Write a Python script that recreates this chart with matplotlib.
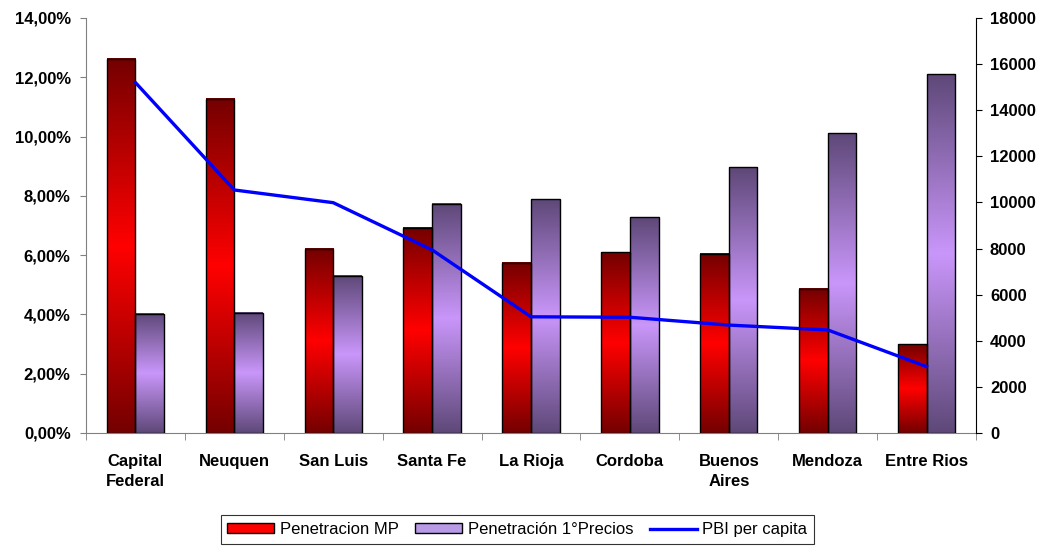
import numpy as np
import matplotlib
matplotlib.use("Agg")
import matplotlib.pyplot as plt
from matplotlib.colors import LinearSegmentedColormap
from matplotlib.patches import Patch
from matplotlib.lines import Line2D
from matplotlib.ticker import FuncFormatter, MultipleLocator

plt.rcParams['font.family'] = ['Liberation Sans', 'DejaVu Sans']

# data per provincia
provincias = ['Capital\nFederal', 'Neuquen', 'San Luis', 'Santa Fe', 'La Rioja',
              'Cordoba', 'Buenos\nAires', 'Mendoza', 'Entre Rios']
penetracion_mp = [12.63, 11.27, 6.21, 6.93, 5.75, 6.10, 6.04, 4.86, 2.99]        # %
penetracion_precios = [4.02, 4.06, 5.30, 7.73, 7.88, 7.28, 8.96, 10.11, 12.11]   # %
pbi_per_capita = [15200, 10540, 9990, 7940, 5040, 5020, 4680, 4470, 2880]

# vertical gradients: dark at both ends, bright in the middle
cmap_rojo = LinearSegmentedColormap.from_list('rojo', ['#740000', '#ff0000', '#740000'])
cmap_lila = LinearSegmentedColormap.from_list('lila', ['#5e4878', '#c996fa', '#5e4878'])


def gradient_bars(ax, bars, cmap):
    grad = np.linspace(0, 1, 256).reshape(-1, 1)
    for rect in bars:
        x, y = rect.get_x(), rect.get_y()
        w, h = rect.get_width(), rect.get_height()
        ax.imshow(grad, extent=[x, x + w, y, y + h], aspect='auto', cmap=cmap,
                  origin='lower', zorder=2, interpolation='bilinear')
        rect.set_facecolor('none')
        rect.set_edgecolor('black')
        rect.set_linewidth(1.0)
        rect.set_zorder(3)


fig = plt.figure(figsize=(10.41, 5.52), dpi=100)
ax = fig.add_axes([0.0826, 0.2156, 0.855, 0.7518])

x = np.arange(len(provincias))
w = 0.29
b1 = ax.bar(x - w / 2, penetracion_mp, width=w)
b2 = ax.bar(x + w / 2, penetracion_precios, width=w)
gradient_bars(ax, b1, cmap_rojo)
gradient_bars(ax, b2, cmap_lila)

ax.set_xlim(-0.5, len(provincias) - 0.5)
ax.set_ylim(0, 14)
ax.yaxis.set_major_locator(MultipleLocator(2))
ax.yaxis.set_major_formatter(FuncFormatter(lambda v, p: f"{v:.2f}%".replace('.', ',')))

ax.set_xticks(x)
ax.set_xticklabels(provincias, fontweight='bold', fontsize=12, linespacing=1.45)
ax.set_xticks(np.arange(-0.5, len(provincias), 1), minor=True)
ax.tick_params(axis='x', which='major', length=0, pad=15)
ax.tick_params(axis='x', which='minor', length=5, color='#808080')
ax.tick_params(axis='y', length=4, color='#808080', pad=7, labelsize=12)
for lab in ax.get_yticklabels():
    lab.set_fontweight('bold')

ax.spines['top'].set_visible(False)
ax.spines['right'].set_visible(False)
ax.spines['left'].set_color('#808080')
ax.spines['bottom'].set_color('#808080')

# PBI per capita on the secondary axis
ax2 = ax.twinx()
ax2.plot(x, pbi_per_capita, color='#0000ff', lw=2.4, zorder=5)
ax2.set_ylim(0, 18000)
ax2.yaxis.set_major_locator(MultipleLocator(2000))
ax2.tick_params(axis='y', length=4, pad=6, labelsize=12)
for lab in ax2.get_yticklabels():
    lab.set_fontweight('bold')
ax2.spines['top'].set_visible(False)
ax2.spines['left'].set_visible(False)
ax2.spines['bottom'].set_visible(False)
ax2.spines['right'].set_color('black')

handles = [
    Patch(facecolor='#ff0000', edgecolor='black', linewidth=1.0),
    Patch(facecolor='#b89ae6', edgecolor='black', linewidth=1.0),
    Line2D([0], [0], color='#0000ff', lw=2.4),
]
labels = ['Penetracion MP', 'Penetración 1°Precios', 'PBI per capita']
leg = fig.legend(handles, labels, loc='lower center', bbox_to_anchor=(0.497, 0.0),
                 ncol=3, fontsize=12, frameon=True, fancybox=False,
                 edgecolor='black', handlelength=2.8, handleheight=0.55,
                 columnspacing=1.0, handletextpad=0.35, borderpad=0.4)
leg.get_frame().set_linewidth(0.8)

fig.savefig('out.png', dpi=100)
